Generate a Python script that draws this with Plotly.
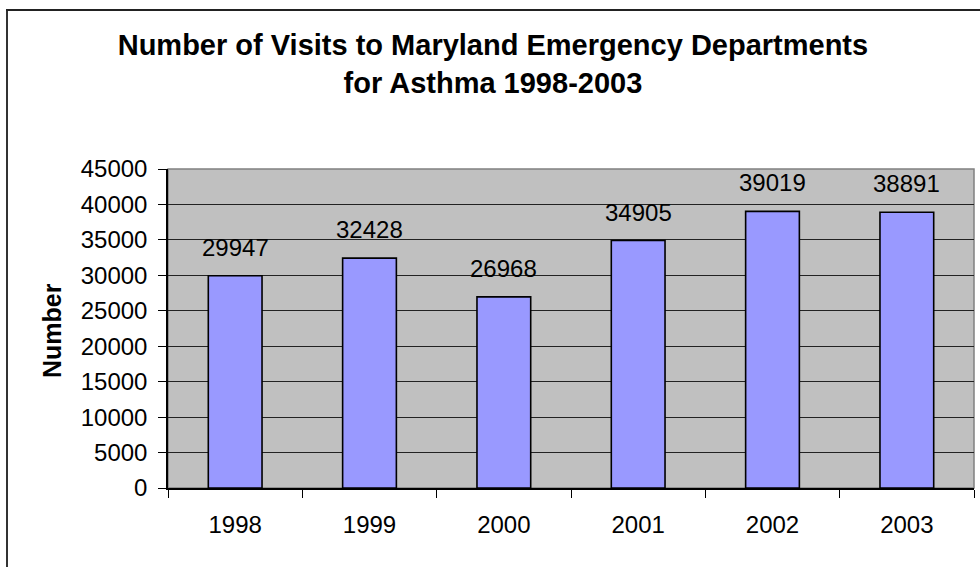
import plotly.graph_objects as go

# Asthma ED visits in Maryland, by year
years = ["1998", "1999", "2000", "2001", "2002", "2003"]
visits = [29947, 32428, 26968, 34905, 39019, 38891]
y_ticks = [0, 5000, 10000, 15000, 20000, 25000, 30000, 35000, 40000, 45000]

W, H = 980, 567
ML, MR, MT, MB = 168, 6, 169, 79
PW = W - ML - MR
PH = H - MT - MB


def px_x(px):
    """Page pixel x -> paper coordinate."""
    return (px - ML) / PW


def px_y(py):
    """Page pixel y (from top) -> paper coordinate."""
    return (H - MB - py) / PH


FONT = "Liberation Sans, Arial, sans-serif"

fig = go.Figure()
fig.add_trace(go.Bar(
    x=years,
    y=visits,
    width=0.4,
    marker=dict(color="#9999FF", line=dict(color="black", width=1.6)),
    hoverinfo="x+y",
))

# value labels above each bar (category axis: position by index)
for i, v in enumerate(visits):
    fig.add_annotation(
        x=i, y=v, xref="x", yref="y", text=str(v),
        showarrow=False, yanchor="bottom", yshift=13,
        font=dict(family=FONT, size=24, color="black"),
    )

# y-axis title
fig.add_annotation(
    x=px_x(52), y=px_y(331), xref="paper", yref="paper",
    xanchor="center", yanchor="middle",
    text="<b>Number</b>", textangle=-90, showarrow=False,
    font=dict(family=FONT, size=25, color="black"),
)

# clipped caption at the very top of the page
fig.add_annotation(
    x=px_x(24), y=px_y(-10), xref="paper", yref="paper",
    text="Figure", showarrow=False, xanchor="left", yanchor="middle",
    font=dict(family="Liberation Serif, Times New Roman, serif", size=17, color="black"),
)

# outer frame (left and top edges)
fig.add_shape(type="line", xref="paper", yref="paper",
              x0=px_x(7), x1=px_x(7), y0=px_y(10), y1=px_y(H + 5),
              line=dict(color="#333333", width=2))
fig.add_shape(type="line", xref="paper", yref="paper",
              x0=px_x(6), x1=px_x(W + 5), y0=px_y(10), y1=px_y(10),
              line=dict(color="#222222", width=2))

# plot-area border (grey top/right)
fig.add_shape(type="rect", xref="paper", yref="paper",
              x0=0, x1=1, y0=0, y1=1, layer="between",
              line=dict(color="#808080", width=1.5))

fig.update_layout(
    width=W, height=H,
    margin=dict(l=ML, r=MR, t=MT, b=MB),
    paper_bgcolor="white",
    plot_bgcolor="#C0C0C0",
    showlegend=False,
    title=dict(
        text="<b>Number of Visits to Maryland Emergency Departments<br>for Asthma 1998-2003</b>",
        x=0.503, xanchor="center", xref="container",
        y=1 - 55 / H, yanchor="top", yref="container",
        font=dict(family=FONT, size=29, color="black"),
    ),
    bargap=0.6,
)

fig.update_xaxes(
    type="category",
    tickson="boundaries",
    ticks="outside", ticklen=8, tickcolor="black", tickwidth=1,
    showline=True, linecolor="black", linewidth=1.5,
    showgrid=False,
    tickfont=dict(family=FONT, size=24, color="black"),
    ticklabelstandoff=14,
    tickangle=0,
)

fig.update_yaxes(
    range=[0, 45000],
    tickvals=y_ticks,
    ticktext=[str(t) for t in y_ticks],
    ticks="outside", ticklen=8, tickcolor="black", tickwidth=1,
    showline=True, linecolor="black", linewidth=1.5,
    showgrid=True, gridcolor="#222222", gridwidth=1,
    zeroline=False,
    tickfont=dict(family=FONT, size=24, color="black"),
    ticklabelstandoff=6,
)

fig.write_html("out.html")
